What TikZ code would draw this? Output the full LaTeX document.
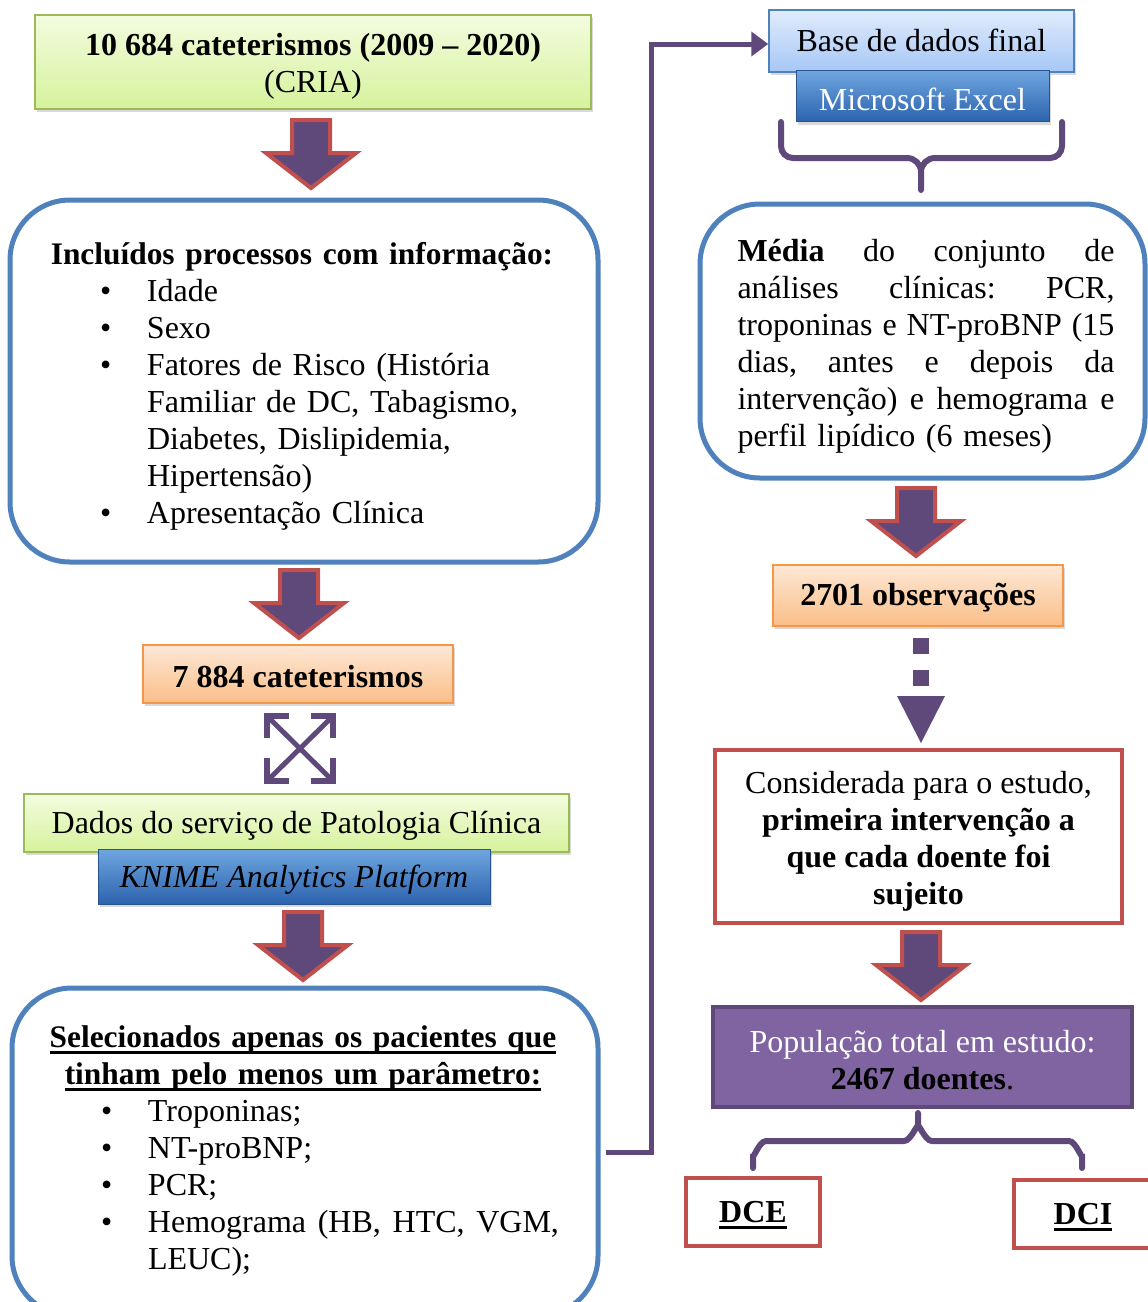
\documentclass[tikz,border=0pt]{standalone}
\usepackage{fontspec}
\setmainfont{Liberation Serif}
\usetikzlibrary{shadows,arrows.meta}
\setlength{\parindent}{0pt}
\definecolor{grnB}{HTML}{9BBB59}
\definecolor{grnT}{HTML}{F3FCDF}
\definecolor{grnM}{HTML}{D6F29C}
\definecolor{bluB}{HTML}{4F81BD}
\definecolor{orgB}{HTML}{F79646}
\definecolor{orgT}{HTML}{FDE8D6}
\definecolor{orgM}{HTML}{FBBE88}
\definecolor{pur}{HTML}{5F497A}
\definecolor{purF}{HTML}{8064A2}
\definecolor{redB}{HTML}{C0504D}
\definecolor{btnT}{HTML}{6FA6E0}
\definecolor{btnM}{HTML}{2C63AE}
\definecolor{btnB}{HTML}{2A5490}
\definecolor{lbT}{HTML}{E0ECFC}
\definecolor{lbM}{HTML}{A6C7F6}
\newcommand\myul[1]{\setbox0\hbox{#1}\rlap{\rule[-6pt]{\wd0}{3pt}}\box0}
\newcommand\bitem[1]{\hspace*{58pt}\makebox[47pt][l]{\textbullet}#1}
\newcommand\bcont[1]{\hspace*{105pt}#1}
\newcommand\jl[1]{\makebox[377pt][l]{#1}}
\newcommand\ttl{\fontsize{31.4}{37}\selectfont\bfseries}
\tikzset{
  every node/.style={font=\fontsize{32}{37}\selectfont},
  shad/.style={drop shadow={opacity=0.3,shadow xshift=2pt,shadow yshift=-3pt}},
  greenbox/.style={draw=grnB, line width=1.5pt, top color=grnT, bottom color=grnM, shad, inner sep=0pt},
  orangebox/.style={draw=orgB, line width=1.5pt, top color=orgT, bottom color=orgM, shad, inner sep=0pt},
  lightbox/.style={draw=bluB, line width=1.5pt, top color=lbT, bottom color=lbM, shad, inner sep=0pt},
  button/.style={draw=btnB, line width=1pt, top color=btnT, bottom color=btnM, shad, inner sep=0pt},
  roundbox/.style={draw=bluB, line width=5pt, rounded corners=60pt, fill=white, inner sep=0pt},
  redbox/.style={draw=redB, line width=4.5pt, fill=white, inner sep=0pt},
  purbox/.style={draw=pur, line width=4.5pt, fill=purF, inner sep=0pt},
  barrow/.style={draw=redB, fill=pur, line width=4pt},
  conn/.style={draw=pur, line width=5pt},
  brace/.style={draw=pur, line width=6pt, line cap=round},
  txt/.style={inner sep=0pt, align=center},
  barrowpic/.pic={\draw[barrow] (-19,2) -- (19,2) -- (19,35) -- (45,35) -- (0,70) -- (-45,35) -- (-19,35) -- cycle;}
}
\begin{document}
\begin{tikzpicture}[x=1pt,y=-1pt]
\useasboundingbox (0,0) rectangle (1148,1302);
\clip (0,0) rectangle (1148,1302);
% left column
\node[greenbox, minimum width=556pt, minimum height=94pt] (top) at (313,62) {};
\node[txt] (topt) at (313,66) {\textbf{10 684 cateterismos (2009 – 2020)}\\(CRIA)};
\pic at (311,118) {barrowpic};
\node[roundbox, minimum width=588pt, minimum height=362pt] (inc) at (304,381) {};
\node[txt, text width=520pt, align=left] (inct) at (302,386)
  {\makebox[520pt][c]{\ttl Incluídos processos com informação:}\\
   \bitem{Idade}\\
   \bitem{Sexo}\\
   \bitem{Fatores de Risco (História}\\
   \bcont{Familiar de DC, Tabagismo,}\\
   \bcont{Diabetes, Dislipidemia,}\\
   \bcont{Hipertensão)}\\
   \bitem{Apresentação Clínica}};
\pic at (299,568) {barrowpic};
\node[orangebox, minimum width=310pt, minimum height=58pt] (n7884) at (298,674) {};
\node[txt] (n7884t) at (298,677) {\textbf{7 884 cateterismos}};
% cross icon
\begin{scope}[pur, line width=6pt]
  \draw (267,738) -- (267,716) -- (289,716);
  \draw (311,716) -- (333,716) -- (333,738);
  \draw (267,758) -- (267,781) -- (289,781);
  \draw (311,781) -- (333,781) -- (333,758);
  \draw[line width=5pt] (270,719) -- (330,778);
  \draw[line width=5pt] (330,719) -- (270,778);
\end{scope}
\node[greenbox, minimum width=545pt, minimum height=58pt] (dados) at (296.5,823) {};
\node[txt] (dadost) at (296.5,826) {Dados do serviço de Patologia Clínica};
\node[button, minimum width=392pt, minimum height=55pt] (knime) at (294,876.5) {};
\node[txt] (knimet) at (294,880) {\textit{KNIME Analytics Platform}};
\pic at (303,910) {barrowpic};
\node[roundbox, minimum width=586pt, minimum height=328pt] (sel) at (305,1152) {};
\node[txt, text width=520pt, align=left] (selt) at (303,1151)
  {\makebox[520pt][c]{\ttl\myul{Selecionados apenas os pacientes que}}\\
   \makebox[520pt][c]{\ttl\myul{tinham pelo menos um parâmetro:}}\\
   \bitem{Troponinas;}\\
   \bitem{NT-proBNP;}\\
   \bitem{PCR;}\\
   \bitem{\makebox[411pt][l]{Hemograma\hfill(HB,\hfill HTC,\hfill VGM,}}\\
   \bcont{LEUC);}};
% right column
\node[lightbox, minimum width=305pt, minimum height=62pt] (base) at (921.5,41) {};
\node[txt] (baset) at (921.5,40) {Base de dados final};
\node[button, minimum width=253pt, minimum height=51pt] (excel) at (922.5,96) {};
\node[txt, text=white] (excelt) at (922.5,99) {Microsoft Excel};
\coordinate (elb) at (651,0);
\coordinate (bin) at ([yshift=-3pt]base.west);
\draw[conn, -{Triangle[length=17pt,width=24pt]}] ([xshift=5pt]sel.east) -| (elb |- bin) -- (bin);
\draw[brace] (781,122) -- (781,146) to[out=-90,in=180] (793,158) -- (907,158) to[out=0,in=90] (921,172) -- (921,190);
\draw[brace] (1062,122) -- (1062,146) to[out=-90,in=0] (1050,158) -- (935,158) to[out=180,in=90] (921,172);
\node[roundbox, minimum width=445pt, minimum height=274pt] (media) at (922.5,341) {};
\node[txt, text width=377pt, align=left] (mediat) at (926,346)
  {\jl{\textbf{Média}\hfill do\hfill conjunto\hfill de}\\
   \jl{análises\hfill clínicas:\hfill PCR,}\\
   \jl{troponinas\hfill e\hfill NT-proBNP\hfill (15}\\
   \jl{dias,\hfill antes\hfill e\hfill depois\hfill da}\\
   \jl{intervenção)\hfill e\hfill hemograma\hfill e}\\
   perfil lipídico (6 meses)};
\pic at (916,486) {barrowpic};
\node[orangebox, minimum width=290pt, minimum height=61pt] (obs) at (918,595.5) {};
\node[txt] (obst) at (918,598) {\textbf{2701 observações}};
\fill[pur] (913,638) rectangle (929,654);
\fill[pur] (913,670) rectangle (929,686);
\fill[pur] (897,696) -- (945,696) -- (921,743) -- cycle;
\node[redbox, minimum width=407pt, minimum height=173pt] (cons) at (918.5,836.5) {};
\node[txt] (const) at (918.5,841)
  {Considerada para o estudo,\\\textbf{primeira intervenção a}\\\textbf{que cada doente foi}\\\textbf{sujeito}};
\pic at (921,930) {barrowpic};
\node[purbox, minimum width=419pt, minimum height=100pt] (pop) at (922.5,1057) {};
\node[txt] (popt) at (922.5,1060)
  {\textcolor{white}{População total em estudo:}\\\textbf{2467 doentes}.};
\draw[brace] (918,1113) -- (918,1128) to[out=90,in=0] (904,1141) -- (766,1141) to[out=180,in=-90] (753,1154) -- (753,1168);
\draw[brace] (918,1128) to[out=90,in=180] (932,1141) -- (1069,1141) to[out=0,in=-90] (1082,1154) -- (1082,1168);
\node[redbox, minimum width=134pt, minimum height=68pt] (dce) at (753,1212) {};
\node[txt] (dcet) at (753,1215) {\textbf{\myul{DCE}}};
\node[redbox, minimum width=138pt, minimum height=68pt] (dci) at (1083,1214) {};
\node[txt] (dcit) at (1083,1217) {\textbf{\myul{DCI}}};
\end{tikzpicture}
\end{document}
